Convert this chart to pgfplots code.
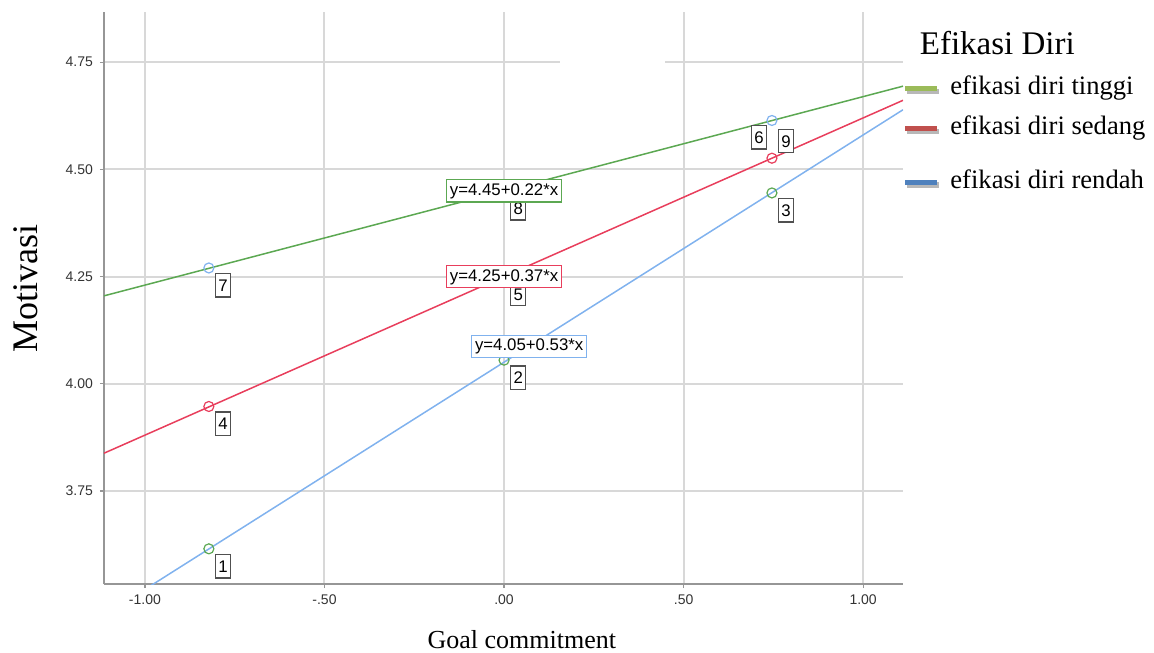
\documentclass[border=0pt]{standalone}
\usepackage{fontspec}
\setmainfont{Liberation Serif}
\setsansfont{Liberation Sans}
\usepackage{pgfplots}
\pgfplotsset{compat=1.18}

\definecolor{lnGreen}{RGB}{92,168,82}
\definecolor{lnRed}{RGB}{232,62,92}
\definecolor{lnBlue}{RGB}{128,178,238}
\definecolor{lgGreen}{RGB}{155,187,89}
\definecolor{lgRed}{RGB}{192,80,77}
\definecolor{lgBlue}{RGB}{79,129,189}
\definecolor{gridGrey}{RGB}{216,216,216}
\definecolor{axGrey}{RGB}{150,150,150}
\definecolor{boxGrey}{RGB}{80,80,80}

\begin{document}
\begin{tikzpicture}[
  numbox/.style={draw=boxGrey, line width=0.7pt, fill=white, text=black,
    font=\sffamily\fontsize{8.4}{9}\selectfont,
    text height=6.1pt, text depth=0pt, inner xsep=1.4pt, inner ysep=2.8pt},
  eqbox/.style={line width=0.6pt, fill=white, text=black,
    font=\sffamily\fontsize{8.4}{9}\selectfont,
    text height=6.1pt, text depth=1.6pt, inner xsep=1.6pt, inner ysep=1.8pt},
]
\path[use as bounding box] (-52pt,-34pt) rectangle (525pt,292pt);

\begin{axis}[
  at={(0,0)}, anchor=south west,
  scale only axis, width=399.5pt, height=286pt,
  clip mode=individual,
  xmin=-1.114, xmax=1.111, ymin=3.533, ymax=4.867,
  axis x line=bottom, axis y line=left,
  axis line style={draw=axGrey, line width=0.75pt, -},
  xtick={-1,-0.5,0,0.5,1},
  xticklabels={-1.00,-.50,.00,.50,1.00},
  ytick={3.75,4,4.25,4.5,4.75},
  yticklabel style={/pgf/number format/.cd, fixed, fixed zerofill, precision=2},
  /pgf/number format/assume math mode=true,
  tick label style={font=\sffamily\fontsize{7}{8}\selectfont, text=black!80},
  tick style={draw=axGrey, line width=0.6pt},
  tick align=outside, major tick length=2pt,
  grid=major, major grid style={draw=gridGrey, line width=1pt},
  xlabel={Goal commitment},
  xlabel style={font=\fontsize{13}{15}\selectfont,
    at={(axis description cs:0.523,-0.098)}, anchor=center},
  ylabel={Motivasi},
  ylabel style={font=\fontsize{18}{20}\selectfont,
    at={(axis description cs:-0.0976,0.516)}, anchor=center},
  legend style={draw=none, fill=none, at={(axis description cs:0.999,0.888)},
    anchor=north west, inner sep=0pt, row sep=8pt,
    font=\fontsize{13.3}{15}\selectfont,
    nodes={inner sep=0pt, text height=9pt, text depth=3pt},
    /tikz/every odd column/.append style={column sep=4.5pt}},
  legend cell align=left,
]

% gap in the top grid line
\fill[white] (axis cs:0.156,4.735) rectangle (axis cs:0.448,4.765);

% fitted lines
\addplot[lnGreen, line width=0.75pt, forget plot] coordinates {(-1.114,4.205) (1.111,4.694)};
\addplot[lnRed, line width=0.75pt, forget plot] coordinates {(-1.114,3.838) (1.111,4.661)};
\addplot[lnBlue, line width=0.75pt, forget plot] coordinates {(-1.114,3.460) (1.111,4.639)};

% observed points
\addplot[only marks, mark=o, mark size=2.5pt, lnGreen, mark options={line width=0.6pt}, forget plot]
  coordinates {(-0.822,3.615) (0,4.055) (0.746,4.445)};
\addplot[only marks, mark=o, mark size=2.5pt, lnBlue, mark options={line width=0.6pt}, forget plot]
  coordinates {(-0.822,4.270) (0,4.450) (0.746,4.614)};
\addplot[only marks, mark=o, mark size=2.5pt, lnRed, mark options={line width=0.6pt}, forget plot]
  coordinates {(-0.822,3.947) (0,4.250) (0.746,4.526)};

% case numbers
\addplot[draw=none, mark=none, forget plot, nodes near coords, point meta=explicit symbolic,
  nodes near coords style={numbox, anchor=north west, xshift=3pt, yshift=-2.5pt}]
  coordinates {(-0.822,3.615) [1] (0,4.055) [2] (0.746,4.445) [3] (-0.822,3.947) [4]
               (0,4.250) [5] (-0.822,4.270) [7] (0,4.450) [8]};
\addplot[draw=none, mark=none, forget plot, nodes near coords, point meta=explicit symbolic,
  nodes near coords style={numbox, anchor=south west, xshift=3pt, yshift=2.4pt}]
  coordinates {(0.746,4.526) [9]};
\addplot[draw=none, mark=none, forget plot, nodes near coords, point meta=explicit symbolic,
  nodes near coords style={numbox, anchor=north east, xshift=-2.4pt, yshift=-2.3pt}]
  coordinates {(0.746,4.614) [6]};

% equation labels
\addplot[draw=none, mark=none, forget plot, nodes near coords, point meta=explicit symbolic,
  nodes near coords style={eqbox, draw=lnGreen, anchor=center}]
  coordinates {(0,4.45) [y=4.45+0.22*x]};
\addplot[draw=none, mark=none, forget plot, nodes near coords, point meta=explicit symbolic,
  nodes near coords style={eqbox, draw=lnRed, anchor=center}]
  coordinates {(0,4.25) [y=4.25+0.37*x]};
\addplot[draw=none, mark=none, forget plot, nodes near coords, point meta=explicit symbolic,
  nodes near coords style={eqbox, draw=lnBlue, anchor=center}]
  coordinates {(0.07,4.087) [y=4.05+0.53*x]};

% legend
\addlegendimage{legend image code/.code={
  \draw[black!28, line width=2.6pt] (0.8pt,-1.4pt) -- (16.8pt,-1.4pt);
  \draw[lgGreen, line width=2.6pt] (0pt,0pt) -- (16pt,0pt);}}
\addlegendentry{efikasi diri tinggi}
\addlegendimage{legend image code/.code={
  \draw[black!28, line width=2.6pt] (0.8pt,-1.4pt) -- (16.8pt,-1.4pt);
  \draw[lgRed, line width=2.6pt] (0pt,0pt) -- (16pt,0pt);}}
\addlegendentry{efikasi diri sedang}
\addlegendimage{legend image code/.code={
  \path (0pt,7.7pt);
  \draw[black!28, line width=2.6pt] (0.8pt,-6.4pt) -- (16.8pt,-6.4pt);
  \draw[lgBlue, line width=2.6pt] (0pt,-5pt) -- (16pt,-5pt);}}
\addlegendentry{\raisebox{-5pt}{efikasi diri rendah}}

\node[font=\fontsize{16.5}{18}\selectfont] at (axis description cs:1.118,0.946) {Efikasi Diri};
\end{axis}
\end{tikzpicture}
\end{document}
